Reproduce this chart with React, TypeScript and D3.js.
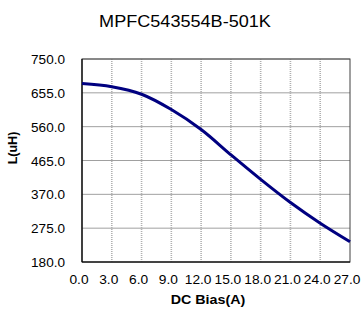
import React from "react";
import * as d3 from "d3";

const title = "MPFC543554B-501K";
const xTicks = [0, 3, 6, 9, 12, 15, 18, 21, 24, 27];
const yTicks = [180, 275, 370, 465, 560, 655, 750];
const biasA = [0, 3, 6, 9, 12, 15, 18, 21, 24, 27];
const inductance = [681, 672, 651, 608, 552, 481, 412, 347, 289, 237];

const W = 361, H = 312;
const M = { left: 82, right: 350, top: 59, bottom: 262 };
const SX = 1.13;
const FONT = "Arial, 'Liberation Sans', sans-serif";

export default function App() {
  const x = d3.scaleLinear().domain([0, 27]).range([M.left, M.right]);
  const y = d3.scaleLinear().domain([180, 750]).range([M.bottom, M.top]);
  const line = d3
    .line<number>()
    .x((_, i) => x(biasA[i]))
    .y((d) => y(d))
    .curve(d3.curveCatmullRom.alpha(0.5));
  const path = line(inductance) || "";

  return (
    <svg
      width={W}
      height={H}
      style={{ position: "absolute", left: 0, top: 0, background: "#fff" }}
    >
      <rect x={0} y={0} width={W} height={H} fill="#fff" />
      <text
        transform={`translate(185,27) scale(${SX},1)`}
        textAnchor="middle"
        fontFamily={FONT}
        fontSize={16}
        fill="#000"
      >
        {title}
      </text>
      {yTicks.map((t) => (
        <line
          key={"h" + t}
          x1={M.left}
          x2={M.right}
          y1={y(t)}
          y2={y(t)}
          stroke="#a0a0a0"
          strokeWidth={1}
        />
      ))}
      {xTicks.slice(1, -1).map((t) => (
        <line
          key={"v" + t}
          x1={x(t)}
          x2={x(t)}
          y1={M.top}
          y2={M.bottom}
          stroke="#b0b0b0"
          strokeWidth={1.6}
          strokeDasharray="1,1"
        />
      ))}
      <rect
        x={M.left}
        y={M.top}
        width={M.right - M.left}
        height={M.bottom - M.top}
        fill="none"
        stroke="#404040"
        strokeWidth={1}
      />
      <line x1={M.left} x2={M.left} y1={M.top} y2={M.bottom} stroke="#000" strokeWidth={1.2} />
      <line x1={M.left} x2={M.right} y1={M.bottom} y2={M.bottom} stroke="#000" strokeWidth={1.2} />
      <path d={path} fill="none" stroke="#000080" strokeWidth={3} />
      {yTicks.map((t) => (
        <text
          key={"yl" + t}
          transform={`translate(65,${y(t) + 5}) scale(${SX},1)`}
          textAnchor="end"
          fontFamily={FONT}
          fontSize={12}
          fill="#000"
        >
          {t.toFixed(1)}
        </text>
      ))}
      {xTicks.map((t) => (
        <text
          key={"xl" + t}
          transform={`translate(${x(t) - 3},284) scale(1.1,1)`}
          textAnchor="middle"
          fontFamily={FONT}
          fontSize={12.5}
          fill="#000"
        >
          {t.toFixed(1)}
        </text>
      ))}
      <text
        transform={`translate(208,304) scale(1.06,1)`}
        textAnchor="middle"
        fontFamily={FONT}
        fontSize={13.5}
        fontWeight="bold"
        fill="#000"
      >
        DC Bias(A)
      </text>
      <text
        transform={`translate(17,148) rotate(-90)`}
        textAnchor="middle"
        fontFamily={FONT}
        fontSize={12.5}
        fontWeight="bold"
        fill="#000"
      >
        L(uH)
      </text>
    </svg>
  );
}
